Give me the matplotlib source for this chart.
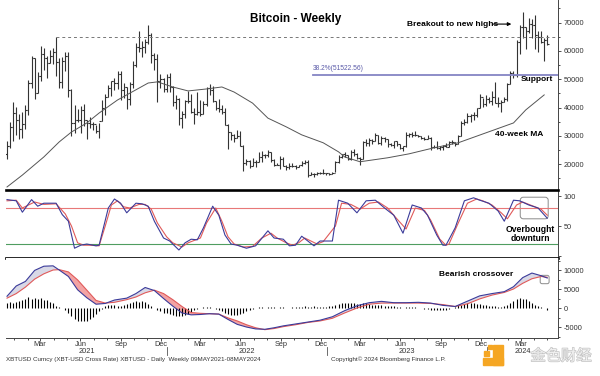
import numpy as np
import pandas as pd
import matplotlib
matplotlib.use('Agg')
from matplotlib import pyplot as plt
from matplotlib.patches import FancyBboxPatch, Rectangle
from matplotlib import patheffects

plt.rcParams['font.family'] = ['Liberation Sans', 'DejaVu Sans']

# weekly bars (thousand USD), first week starts 2020-12-21
first_open = 23.5
highs = [28.4, 34.8,
         41.9, 40.1, 37.8, 38.5, 40.9, 49.7, 58.4, 57.5, 52.6, 61.8, 61.2, 58.4, 60.2, 61.0, 64.9, 57.5, 58.0,
         59.5, 59.6, 46.6, 40.8, 39.5, 40.5, 41.3, 35.8, 36.6, 35.1, 34.0, 34.5, 42.6, 44.7, 48.1, 49.4, 50.5,
         52.9, 52.9, 48.8, 47.4, 49.2, 56.6, 62.9, 67.0, 63.7, 64.3, 69.0, 66.3, 59.4, 59.0, 51.9, 50.5, 51.9, 52.1,
         47.5, 44.5, 43.5, 38.9, 42.6, 45.8, 44.7, 39.8, 45.4, 42.6, 42.3, 47.2, 48.2, 47.5, 42.4, 42.9, 40.8,
         40.0, 34.2, 31.3, 30.6, 32.2, 31.6, 26.9, 21.9, 21.5, 22.4, 21.6, 24.3, 24.7, 23.6, 25.2, 24.4, 22.0,
         20.5, 22.8, 22.7, 19.7, 20.4, 20.5, 19.6, 19.7, 21.0, 21.5, 21.4, 17.2, 16.8, 17.4, 17.4, 18.4, 17.1, 16.9,
         17.2, 21.3, 23.3, 23.8, 24.2, 23.4, 25.2, 25.3, 23.9, 22.6, 28.4, 28.8, 29.2, 28.8, 31.0, 30.5, 30.0,
         29.8, 29.0, 27.6, 28.4, 28.4, 27.2, 26.4, 31.4, 31.0, 31.4, 31.8, 30.4, 30.1, 29.7, 30.2, 29.7, 26.8,
         28.1, 26.4, 26.9, 27.5, 28.1, 28.6, 28.0, 30.4, 35.2, 35.9, 38.0, 37.9, 38.4, 40.0, 44.7, 43.4, 44.3, 43.8,
         45.9, 49.0, 43.6, 42.8, 43.8, 48.6, 52.8, 52.9, 64.0, 69.1, 73.8, 68.5, 71.7, 71.3, 72.8, 66.9, 67.2,
         64.7, 65.5]
lows = [22.0, 25.9,
        28.1, 30.4, 28.9, 29.2, 32.3, 37.4, 47.0, 43.0, 45.0, 49.3, 53.2, 50.4, 55.8, 55.4, 51.0, 47.0, 47.0,
        53.0, 43.8, 30.0, 31.1, 34.8, 31.0, 33.4, 28.8, 32.7, 32.1, 31.0, 29.3, 35.2, 37.5, 43.7, 44.2, 46.3,
        46.5, 42.8, 43.4, 39.6, 40.8, 46.9, 54.4, 59.6, 57.8, 59.4, 62.3, 55.6, 53.3, 42.0, 46.8, 45.5, 45.6, 45.7,
        40.6, 39.6, 34.0, 32.9, 36.3, 41.7, 38.0, 34.3, 37.5, 37.2, 37.6, 40.5, 44.6, 41.9, 39.2, 38.6, 37.7,
        33.7, 25.4, 28.7, 28.0, 29.3, 26.6, 17.6, 19.6, 18.6, 19.3, 18.9, 20.8, 20.7, 22.4, 22.7, 20.8, 19.5,
        19.6, 18.5, 19.3, 18.1, 18.5, 19.1, 18.2, 18.9, 19.3, 20.1, 15.6, 16.3, 15.5, 16.1, 16.7, 16.5, 16.3, 16.3,
        16.6, 17.2, 20.4, 22.3, 22.6, 21.4, 21.5, 23.1, 21.9, 19.6, 21.8, 26.6, 26.6, 27.3, 28.2, 27.1, 26.9,
        27.7, 26.0, 26.3, 25.9, 26.6, 25.4, 24.8, 26.2, 29.5, 29.7, 30.0, 29.6, 28.9, 28.6, 28.8, 25.2, 25.8,
        25.3, 24.9, 24.9, 26.0, 26.0, 27.2, 26.5, 27.1, 29.9, 33.9, 34.5, 34.8, 35.6, 36.8, 39.9, 40.2, 40.5, 41.5,
        40.8, 41.5, 40.3, 38.6, 41.9, 42.3, 48.2, 50.5, 50.9, 59.0, 64.6, 60.8, 66.5, 64.5, 60.7, 59.6, 62.8,
        56.5, 62.0]
closes = [26.3, 33.0,
          38.2, 35.8, 32.3, 34.3, 39.2, 48.6, 57.5, 45.2, 51.0, 59.0, 57.4, 55.8, 58.2, 59.8, 56.2, 49.0, 56.6,
          58.2, 46.4, 34.7, 35.7, 35.8, 39.1, 35.6, 34.7, 34.2, 34.3, 31.6, 35.4, 39.9, 43.8, 47.1, 49.3, 48.8,
          51.8, 46.1, 47.3, 43.2, 48.2, 54.9, 61.5, 60.9, 61.3, 63.3, 65.5, 58.6, 57.3, 49.4, 50.1, 46.7, 50.8, 47.3,
          41.9, 43.1, 36.3, 37.9, 42.4, 42.2, 38.4, 37.7, 38.4, 37.8, 41.3, 46.8, 46.4, 42.2, 39.7, 39.5, 38.5,
          34.0, 31.3, 30.3, 29.4, 29.9, 26.6, 20.6, 21.0, 19.3, 20.8, 20.8, 22.6, 23.3, 23.2, 24.4, 21.5, 19.6,
          19.8, 21.8, 19.4, 18.9, 19.3, 19.4, 19.2, 19.6, 20.6, 20.9, 16.3, 16.7, 16.5, 17.1, 17.1, 16.8, 16.8, 16.7,
          17.1, 20.9, 22.7, 23.7, 23.3, 21.8, 24.3, 23.6, 22.4, 22.0, 28.0, 27.5, 28.5, 28.3, 30.3, 27.6, 29.2,
          28.9, 27.2, 26.8, 28.1, 27.1, 25.9, 26.3, 30.5, 30.6, 30.3, 30.2, 30.0, 29.3, 29.0, 29.4, 26.1, 26.0,
          25.8, 26.1, 26.5, 26.2, 28.0, 27.9, 27.2, 30.0, 34.5, 35.0, 37.1, 37.4, 37.5, 39.9, 43.8, 41.4, 43.0, 42.3,
          43.9, 41.7, 41.6, 42.0, 43.0, 48.3, 52.1, 51.7, 63.1, 68.3, 68.3, 67.2, 69.6, 69.3, 65.7, 64.9, 63.1,
          64.0, 62.4]

# 40-week moving average (week index, thousand USD)
ma_weeks = [0, 5, 12, 17, 21, 26, 30, 36, 43, 46, 49, 54, 59, 65, 70, 74, 80, 85, 91, 96,
            103, 108, 110, 115, 124, 131, 139, 147, 156, 165, 169, 175]
ma_values = [12.0, 16.2, 22.6, 27.9, 31.4, 34.6, 38.1, 42.7, 46.9, 48.7, 49.1, 47.3, 45.9, 46.6, 47.3,
             45.5, 41.6, 36.3, 33.2, 30.4, 27.6, 24.4, 22.6, 20.9, 22.3, 23.7, 25.8, 27.6, 31.1, 34.6,
             39.2, 44.5]

# stochastic %K (blue) and %D (red)
k_weeks = [0, 3, 5, 8, 10, 12, 16, 18, 20, 22, 24, 26, 29, 30, 33, 35, 37, 39, 42, 44, 46, 48, 51, 53,
           56, 58, 60, 62, 64, 67, 69, 71, 73, 75, 78, 81, 85, 87, 90, 92, 94, 96, 100, 102, 106, 108,
           111, 114, 117, 120, 123, 126, 129, 132, 135, 137, 140, 142, 143, 146, 149, 152, 154, 157,
           160, 162, 165, 167, 170, 173, 176]
k_values = [94, 92, 73, 94, 83, 88, 88, 69, 58, 13, 18, 20, 17, 18, 80, 95, 88, 72, 88, 87, 83, 58, 30,
            25, 10, 22, 28, 27, 47, 83, 68, 35, 20, 18, 13, 17, 42, 30, 28, 17, 18, 33, 17, 25, 25, 93,
            88, 72, 92, 93, 80, 68, 38, 85, 80, 68, 35, 18, 18, 47, 92, 97, 93, 88, 75, 58, 93, 92, 85,
            80, 63]
d_weeks = [0, 3, 5, 7, 9, 12, 16, 19, 21, 23, 25, 27, 30, 32, 34, 36, 38, 40, 43, 45, 47, 49, 52, 54,
           57, 59, 61, 63, 65, 68, 70, 72, 74, 77, 80, 83, 86, 88, 91, 93, 95, 97, 101, 103, 107, 109,
           112, 115, 118, 121, 124, 127, 130, 133, 136, 138, 141, 143, 144, 147, 150, 153, 155, 158,
           161, 163, 166, 168, 171, 174, 176]
d_values = [92, 93, 80, 85, 90, 86, 87, 70, 50, 22, 18, 18, 17, 50, 85, 92, 82, 80, 86, 86, 78, 55, 32,
            22, 15, 22, 26, 30, 55, 80, 58, 32, 20, 15, 16, 30, 38, 30, 22, 18, 22, 30, 20, 24, 50, 88,
            86, 78, 88, 90, 80, 62, 45, 80, 76, 60, 28, 18, 20, 55, 88, 95, 92, 85, 72, 62, 85, 90, 84,
            78, 68]

# MACD (thousand USD)
macd_weeks = [0, 3, 6, 9, 12, 15, 17, 20, 23, 26, 29, 32, 35, 39, 42, 45, 48, 51, 54, 57, 60, 63, 66,
              69, 72, 75, 78, 81, 84, 87, 90, 94, 98, 102, 106, 110, 114, 118, 122, 126, 130, 134, 138,
              142, 146, 150, 154, 158, 162, 165, 168, 171, 174, 176]
macd_values = [3.1, 5.8, 7.0, 9.9, 11.0, 11.1, 10.0, 8.3, 4.8, 2.7, 1.0, 1.2, 2.1, 2.6, 3.8, 5.4, 4.6,
               2.5, 0.5, -1.3, -1.8, -1.7, -1.5, -1.6, -3.0, -4.3, -5.0, -5.5, -5.6, -5.2, -4.7, -4.2,
               -3.7, -3.2, -2.3, -0.7, 0.6, 1.4, 1.75, 1.4, 1.4, 1.5, 1.3, 0.7, 0.4, 1.8, 3.2, 3.8, 4.3,
               5.6, 8.0, 9.2, 8.5, 7.9]
signal_values = [2.6, 3.8, 5.5, 7.6, 9.0, 10.0, 10.1, 9.5, 7.4, 4.7, 2.0, 1.3, 1.5, 2.2, 2.9, 4.0, 4.7,
                 3.8, 2.2, 0.4, -1.2, -1.4, -1.5, -1.6, -2.6, -3.4, -4.4, -5.2, -5.7, -5.4, -4.9, -4.4,
                 -3.8, -3.4, -2.7, -1.3, 0.0, 1.0, 1.3, 1.3, 1.3, 1.3, 1.2, 0.9, 0.4, 1.1, 2.4, 3.4, 4.1,
                 5.0, 6.5, 7.7, 8.3, 8.1]
hist_values = [1.2, 1.5, 1.4, 1.6, 1.8, 2.0, 2.4, 2.8, 2.5, 2.6,
               2.4, 2.6, 2.2, 2.0, 1.6, 1.2, 0.6, 0.3, 0.1, -0.4,
               -1.2, -2.0, -2.8, -3.3, -3.5, -3.4, -3.3, -3.0, -2.4, -1.6,
               -0.8, -0.2, 0.4, 0.8, 0.9, 0.7, 0.5, 0.6, 0.9, 1.1,
               1.3, 1.6, 1.8, 1.7, 1.8, 1.5, 1.0, 0.4, -0.1, -0.6,
               -0.9, -1.2, -1.4, -1.7, -1.9, -2.1, -2.2, -2.0, -1.8, -1.5,
               -1.0, -0.6, -0.3, 0.0, 0.2, 0.3, 0.2, 0.1, -0.2, -0.5,
               -0.9, -1.3, -1.6, -1.8, -1.9, -1.8, -1.6, -1.3, -0.9, -0.5,
               -0.2, 0.1, 0.2, 0.2, 0.1, 0.2, 0.3, 0.2, 0.1, 0.2,
               0.2, 0.1, 0.1, 0.2, 0.3, 0.2, 0.3, 0.4, 0.3, 0.3,
               0.4, 0.3, 0.3, 0.2, 0.3, 0.4, 0.5, 0.8, 1.0, 1.2,
               1.3, 1.4, 1.3, 1.2, 1.0, 1.1, 1.3, 1.2, 1.0, 0.9,
               0.8, 0.9, 0.7, 0.6, 0.5, 0.6, 0.4, 0.3, 0.2, 0.1,
               0.3, 0.2, 0.3, 0.2, 0.1, -0.1, -0.2, -0.3, -0.4, -0.5,
               -0.6, -0.6, -0.5, -0.4, -0.3, -0.1, 0.3, 0.7, 0.9, 1.1,
               1.2, 1.3, 1.2, 1.1, 1.0, 0.9, 0.8, 0.6, 0.5, 0.4,
               0.3, 0.2, 0.4, 0.8, 1.3, 1.8, 2.3, 2.6, 2.5, 2.3,
               1.9, 1.4, 0.9, 0.5, 0.2, 0.0, -0.4]

breakout_level = 64.9
fib_level = 51.52256
fib_label = '38.2%(51522.56)'
start = pd.Timestamp('2020-12-21')

BAR = '#333333'
BLUE = '#3b3b9a'
RED = '#e05a5a'


def week_pos(date):
    return (pd.Timestamp(date) - start).days / 7 + 0.75


W, H = 600, 376
fig = plt.figure(figsize=(W / 100, H / 100), dpi=100)


def panel(top, bottom):
    return fig.add_axes([6 / W, 1 - bottom / H, 552 / W, (bottom - top) / H])


ax_p = panel(0, 190)
ax_s = panel(190, 257.7)
ax_m = panel(257.7, 338)

x = np.arange(len(closes))
xlim = (-0.33, 179.5)
for ax in (ax_p, ax_s, ax_m):
    ax.set_xlim(*xlim)
    ax.set_facecolor('white')
    ax.spines['left'].set_visible(False)
    ax.spines['top'].set_visible(False)
    ax.spines['bottom'].set_visible(False)
    ax.spines['right'].set_color('#444444')
    ax.spines['right'].set_linewidth(0.7)
    ax.yaxis.tick_right()
    ax.tick_params(axis='y', which='both', direction='out', width=0.6, colors='#333333',
                   labelsize=5.3, pad=1.5)
    ax.tick_params(axis='y', which='major', length=2.5)
    ax.tick_params(axis='y', which='minor', length=1.5)
    ax.tick_params(axis='x', which='both', bottom=False, labelbottom=False)

# ---- price panel
high = np.array(highs) * 1000
low = np.array(lows) * 1000
close = np.array(closes) * 1000
opens = np.concatenate([[first_open * 1000], close[:-1]])
ax_p.vlines(x, low, high, color=BAR, lw=0.8)
ax_p.hlines(opens, x - 0.5, x, color=BAR, lw=0.8)
ax_p.hlines(close, x, x + 0.5, color=BAR, lw=0.8)
ax_p.plot(ma_weeks, np.array(ma_values) * 1000, color='#555555', lw=0.7)

hi_week = int(np.argmax(high[:30]))
ax_p.plot([hi_week, xlim[1]], [breakout_level * 1000] * 2, color='#777777', lw=0.7,
          dashes=(3, 3))
ax_p.plot([99.7, xlim[1]], [fib_level * 1000] * 2, color='#8585c4', lw=1.3)
ax_p.text(99.7, fib_level * 1000 + 900, fib_label, fontsize=4.8, color='#5a5aa8',
          ha='left', va='bottom')

ax_p.set_ylim(10930, 78000)
ax_p.set_yticks(np.arange(20000, 70001, 10000))
ax_p.set_yticks(np.arange(15000, 75001, 5000), minor=True)
ax_p.set_yticklabels([str(v) for v in range(20000, 70001, 10000)])

ax_p.text(0.525, 0.9, 'Bitcoin - Weekly', transform=ax_p.transAxes, ha='center', va='center',
          fontsize=8.5, fontweight='bold')
ax_p.text(130.3, 69500, 'Breakout to new highs', ha='left', va='center', fontsize=6,
          fontweight='bold')
ax_p.annotate('', xy=(164.3, 69500), xytext=(158.2, 69500),
              arrowprops=dict(arrowstyle='-|>', color='black', lw=0.8,
                              mutation_scale=5, shrinkA=0, shrinkB=0))
ax_p.text(172.7, 50100, 'Support', ha='center', va='center', fontsize=6, fontweight='bold')
ax_p.text(166.7, 30400, '40-week MA', ha='center', va='center', fontsize=6, fontweight='bold')

# ---- stochastic panel
ax_s.axhline(80, color='#e87878', lw=0.8)
ax_s.axhline(20, color='#4f9d60', lw=0.8)
ax_s.plot(d_weeks, d_values, color=RED, lw=0.8)
ax_s.plot(k_weeks, k_values, color=BLUE, lw=0.8)
ax_s.set_ylim(-2.8, 110)
ax_s.set_yticks([0, 50, 100])
ax_s.set_yticklabels(['', '50', '100'])
for side in ('top', 'bottom'):
    ax_s.spines[side].set_visible(True)
    ax_s.spines[side].set_color('black')
    ax_s.spines[side].set_linewidth(1.9)
ax_s.add_patch(FancyBboxPatch((167.2, 62), 9.1, 36,
                              boxstyle='round,pad=0,rounding_size=1',
                              mutation_aspect=5.1, fc='none', ec='#8a8a8a', lw=0.7))
ax_s.text(170.4, 37.5, 'Overbought\ndownturn', ha='center', va='center', fontsize=6.2,
          fontweight='bold', linespacing=1.0)

# ---- MACD panel
mw = np.array(macd_weeks)
mv = np.array(macd_values) * 1000
sv = np.array(signal_values) * 1000
ax_m.fill_between(mw, mv, sv, where=mv >= sv, interpolate=True, color='#d8d8e6', lw=0)
ax_m.fill_between(mw, mv, sv, where=mv < sv, interpolate=True, color='#f3a3a3', lw=0)
ax_m.vlines(x, 0, np.array(hist_values) * 1000, color='black', lw=0.8)
ax_m.plot(mw, sv, color=RED, lw=0.8)
ax_m.plot(mw, mv, color=BLUE, lw=0.8)
ax_m.set_ylim(-7890, 13240)
ax_m.set_yticks([-5000, 0, 5000, 10000])
ax_m.set_yticks(np.arange(-7500, 12501, 2500), minor=True)
ax_m.set_yticklabels(['-5000', '0', '5000', '10000'])
ax_m.spines['bottom'].set_visible(True)
ax_m.spines['bottom'].set_color('#444444')
ax_m.spines['bottom'].set_linewidth(0.7)
ax_m.add_patch(FancyBboxPatch((173.7, 6400), 2.9, 2200,
                              boxstyle='round,pad=0,rounding_size=0.6',
                              mutation_aspect=808, fc='none', ec='#8a8a8a', lw=0.7))
ax_m.text(152.7, 8700, 'Bearish crossover', ha='center', va='center', fontsize=6,
          fontweight='bold')

# x axis: months
months = pd.date_range('2021-01-01', '2024-05-01', freq='MS')
quarters = [m for m in months if m.month in (3, 6, 9, 12)]
ax_m.set_xticks([week_pos(m) for m in quarters])
ax_m.set_xticklabels([m.strftime('%b') for m in quarters])
ax_m.set_xticks([week_pos(m) for m in months], minor=True)
ax_m.tick_params(axis='x', which='both', bottom=True, labelbottom=True, direction='out',
                 colors='#333333', width=0.6, labelsize=5.3, pad=0.3)
ax_m.tick_params(axis='x', which='major', length=2.2)
ax_m.tick_params(axis='x', which='minor', length=1.5)

seps = [week_pos(f'{y}-12-15') for y in (2021, 2022, 2023)]
edges = [xlim[0]] + seps + [xlim[1]]
for s in seps:
    ax_m.plot([s, s], [-0.11, -0.21], color='#555555', lw=0.6,
              transform=ax_m.get_xaxis_transform(), clip_on=False)
for yr, a, b in zip((2021, 2022, 2023, 2024), edges[:-1], edges[1:]):
    ax_m.text((a + b) / 2, -0.165, str(yr), transform=ax_m.get_xaxis_transform(),
              ha='center', va='center', fontsize=5.3, color='#333333')

fig.text(6 / W, 1 - 359 / H, 'XBTUSD Curncy (XBT-USD Cross Rate) XBTUSD - Daily  Weekly '
         '09MAY2021-08MAY2024', ha='left', va='center', fontsize=4.5, color='#333333')
fig.text(388 / W, 1 - 359 / H, 'Copyright\u00a9 2024 Bloomberg Finance L.P.', ha='center',
         va='center', fontsize=4.5, color='#333333')

# watermark
orange = '#f5a623'
for (x0, y0, w, h) in [(483, 358, 20, 7), (493, 345, 10, 20), (484, 351, 5, 5), (488, 345, 4, 4)]:
    fig.add_artist(Rectangle((x0 / W, 1 - (y0 + h) / H), w / W, h / H, color=orange,
                             transform=fig.transFigure, zorder=10))
fig.text(561 / W, 1 - 356 / H, '金色财经', ha='center', va='center', fontsize=11,
         color='#f0f0f0', family=['Noto Sans CJK SC'], zorder=10,
         path_effects=[patheffects.withStroke(linewidth=1.0, foreground='#c4c4c4')])

fig.savefig('out.png', dpi=100, facecolor='white')
